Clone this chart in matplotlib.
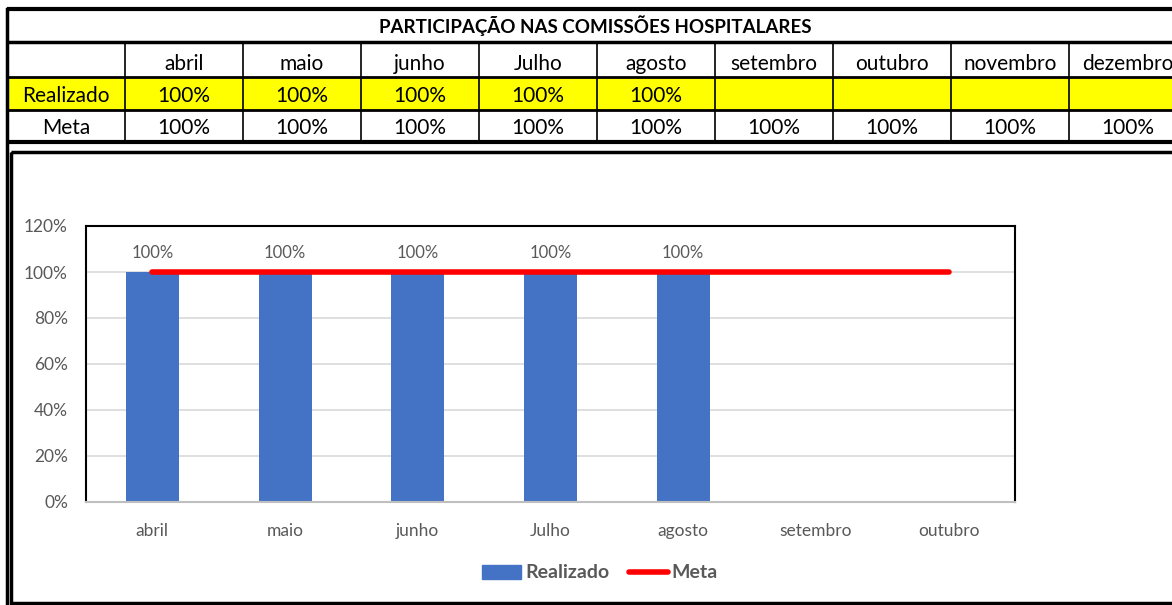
import numpy as np
import matplotlib.pyplot as plt
from matplotlib.patches import Rectangle
from matplotlib.lines import Line2D

plt.rcParams['font.family'] = ['Lato', 'DejaVu Sans']

# table data
title = "PARTICIPAÇÃO NAS COMISSÕES HOSPITALARES"
table_months = ["abril", "maio", "junho", "Julho", "agosto", "setembro",
                "outubro", "novembro", "dezembro"]
table_realizado = ["100%", "100%", "100%", "100%", "100%", "", "", "", ""]
table_meta = ["100%"] * 9

# chart data
months = ["abril", "maio", "junho", "Julho", "agosto", "setembro", "outubro"]
realizado = [1.0, 1.0, 1.0, 1.0, 1.0, np.nan, np.nan]
meta = [1.0, 1.0, 1.0, 1.0, 1.0, 1.0, 1.0]

W, H = 1172, 605
fig = plt.figure(figsize=(W / 100, H / 100), dpi=100)

# background axes in pixel units for the table and the frames
bg = fig.add_axes([0, 0, 1, 1])
bg.set_xlim(0, W)
bg.set_ylim(H, 0)
bg.axis('off')

x0, col0_w, col_w = 7, 118, 118
rows = [9, 42, 77, 110, 142]
cell_fs = 15

# yellow row
bg.add_patch(Rectangle((x0, rows[2]), W - x0, rows[3] - rows[2], facecolor='#ffff00',
                       edgecolor='none', zorder=1))

# horizontal lines
for y, lw in zip(rows, [3, 2.5, 2, 2, 3]):
    bg.plot([x0, W], [y, y], color='black', lw=lw, zorder=3, solid_capstyle='butt')
# vertical lines
bg.plot([x0, x0], [rows[0], H], color='black', lw=2.5, zorder=3)
for i in range(len(table_months)):
    xc = x0 + col0_w + i * col_w
    bg.plot([xc, xc], [rows[1], rows[4]], color='black', lw=1.2, zorder=3)

bg.text(595, (rows[0] + rows[1]) / 2, title, ha='center', va='center',
        fontsize=13.5, fontweight='bold', zorder=4)
bg.text(x0 + col0_w / 2, (rows[2] + rows[3]) / 2 + 3, "Realizado", ha='center',
        va='center', fontsize=cell_fs, zorder=4)
bg.text(x0 + col0_w / 2, (rows[3] + rows[4]) / 2 + 2, "Meta", ha='center',
        va='center', fontsize=cell_fs, zorder=4)
for i, (m, r, mt) in enumerate(zip(table_months, table_realizado, table_meta)):
    xc = x0 + col0_w + i * col_w + col_w / 2
    bg.text(xc, (rows[1] + rows[2]) / 2 + 4, m, ha='center', va='center', fontsize=cell_fs, zorder=4)
    bg.text(xc, (rows[2] + rows[3]) / 2 + 3, r, ha='center', va='center', fontsize=cell_fs, zorder=4)
    bg.text(xc, (rows[3] + rows[4]) / 2 + 2, mt, ha='center', va='center', fontsize=cell_fs, zorder=4)

# chart frame
bg.add_patch(Rectangle((11, 152), W + 10, 451, facecolor='none', edgecolor='black',
                       lw=2.5, zorder=3))

# chart axes: left 86, top 226, right 1015, bottom 502
ax = fig.add_axes([86 / W, 1 - 502 / H, (1015 - 86) / W, (502 - 226) / H])
x = np.arange(len(months))
bars = ax.bar(x, realizado, width=0.4, color='#4472c4', zorder=2, label='Realizado')
ax.plot(x, meta, color='#ff0000', lw=4, solid_capstyle='round', zorder=3, label='Meta')

for xi, v in zip(x, realizado):
    if not np.isnan(v):
        ax.text(xi, v + 0.05, f"{v:.0%}", ha='center', va='bottom', fontsize=12,
                color='#595959')

ax.set_xlim(-0.5, len(months) - 0.5)
ax.set_ylim(0, 1.2)
ax.set_yticks(np.arange(0, 1.21, 0.2))
ax.set_yticklabels([f"{t:.0%}" for t in np.arange(0, 1.21, 0.2)])
ax.set_xticks(x)
ax.set_xticklabels(months)
ax.tick_params(length=0, labelsize=12.5, colors='#595959')
ax.tick_params(axis='x', pad=15)
ax.tick_params(axis='y', pad=13)
ax.grid(axis='y', color='#d9d9d9', lw=1.2, zorder=0)
ax.set_axisbelow(True)
for s in ['left', 'top', 'right']:
    ax.spines[s].set_color('black')
    ax.spines[s].set_linewidth(1.5)
ax.spines['bottom'].set_color('#bfbfbf')
ax.spines['bottom'].set_linewidth(1.5)

handles = [Rectangle((0, 0), 1, 1, color='#4472c4'),
           Line2D([0], [0], color='#ff0000', lw=4, solid_capstyle='round')]
fig.legend(handles, ['Realizado', 'Meta'], loc='center', bbox_to_anchor=(600 / W, 1 - 573 / H),
           ncol=2, frameon=False, prop={'weight': 'bold', 'size': 14},
           labelcolor='#595959', handlelength=2.0, handletextpad=0.2, columnspacing=1.0)

fig.savefig("out.png", dpi=100)
